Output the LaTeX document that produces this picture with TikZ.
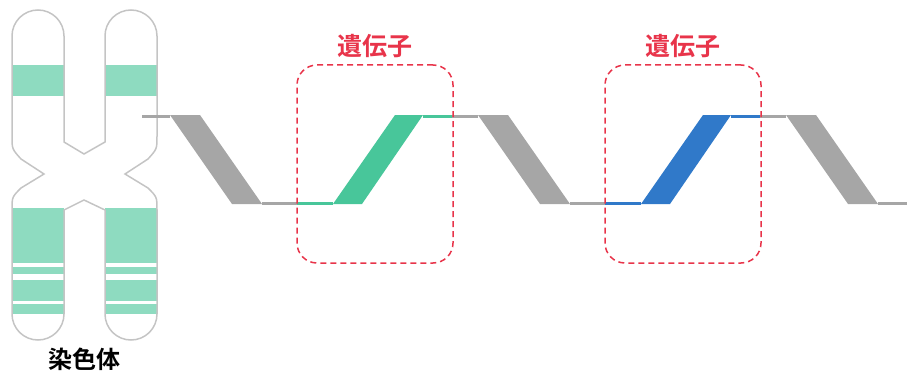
\documentclass[tikz,border=0pt]{standalone}
\usepackage{fontspec}
\newfontfamily\jp{Noto Sans CJK JP}[BoldFont={* Bold}]
\usepackage{xcolor}
\usetikzlibrary{positioning}

\definecolor{mint}{HTML}{8EDBC0}
\definecolor{chromline}{HTML}{C4C4C4}
\definecolor{dnagray}{HTML}{A6A6A6}
\definecolor{genegreen}{HTML}{48C69A}
\definecolor{geneblue}{HTML}{3079C9}
\definecolor{genered}{HTML}{E8344A}

\begin{document}
\begin{tikzpicture}[
    x=1pt, y=1pt,
    every node/.style={font=\jp\bfseries\fontsize{25}{30}\selectfont},
    strand/.style={line width=3pt},
    genebox/.style={rectangle, draw=genered, line width=1.5pt, dash pattern=on 6pt off 4pt,
        rounded corners=20pt, minimum width=156pt, minimum height=198pt},
    genelabel/.style={text=genered, inner sep=1pt}
]
    \useasboundingbox (0,0) rectangle (907,373);

    % Chromosome outline
    \def\chromosome{(12,337) arc (180:0:26) -- (64,231) -- (84,219) -- (105,231) -- (105,337)
        arc (180:0:26) -- (157,237) .. controls (157,224) .. (148,214) -- (125,199)
        -- (148,185) .. controls (157,176) .. (157,163) -- (157,59) arc (0:-180:26)
        -- (105,163) -- (84,173) -- (64,163) -- (64,59) arc (0:-180:26) -- (12,163)
        .. controls (12,176) .. (21,185) -- (44,199) -- (21,214) .. controls (12,224) .. (12,237) -- cycle}

    % Bands
    \begin{scope}
        \clip \chromosome;
        \foreach \ya/\yb in {277/308, 110/165, 99/106, 72/93, 59/69} {
            \fill[mint] (12,\ya) rectangle (64,\yb);
            \fill[mint] (105,\ya) rectangle (157,\yb);
        }
    \end{scope}
    \draw[chromline, line width=1.5pt] \chromosome;

    \node[font=\jp\bfseries\fontsize{24}{28}\selectfont] (chromo) at (84,14) {染色体};

    % DNA strand
    \draw[strand, dnagray] (142,257) -- (170,257);
    \foreach \x in {170, 478, 786} {
        \fill[dnagray] (\x,258) -- (\x+30,258) -- (\x+92,169) -- (\x+62,169) -- cycle;
    }
    \draw[strand, dnagray] (262,170) -- (297,170);
    \draw[strand, dnagray] (452,257) -- (478,257);
    \draw[strand, dnagray] (570,170) -- (605,170);
    \draw[strand, dnagray] (760,257) -- (786,257);
    \draw[strand, dnagray] (878,170) -- (907,170);

    % Genes
    \draw[strand, genegreen] (297,170) -- (333,170);
    \fill[genegreen] (333,169) -- (362,169) -- (423,258) -- (395,258) -- cycle;
    \draw[strand, genegreen] (423,257) -- (452,257);

    \draw[strand, geneblue] (605,170) -- (641,170);
    \fill[geneblue] (641,169) -- (670,169) -- (731,258) -- (703,258) -- cycle;
    \draw[strand, geneblue] (731,257) -- (760,257);

    % Gene boxes
    \node[genebox] (gene1) at (375,209) {};
    \node[genebox] (gene2) at (683,209) {};
    \node[genelabel, above=5pt of gene1] (name1) {遺伝子};
    \node[genelabel, above=5pt of gene2] (name2) {遺伝子};

\end{tikzpicture}
\end{document}
